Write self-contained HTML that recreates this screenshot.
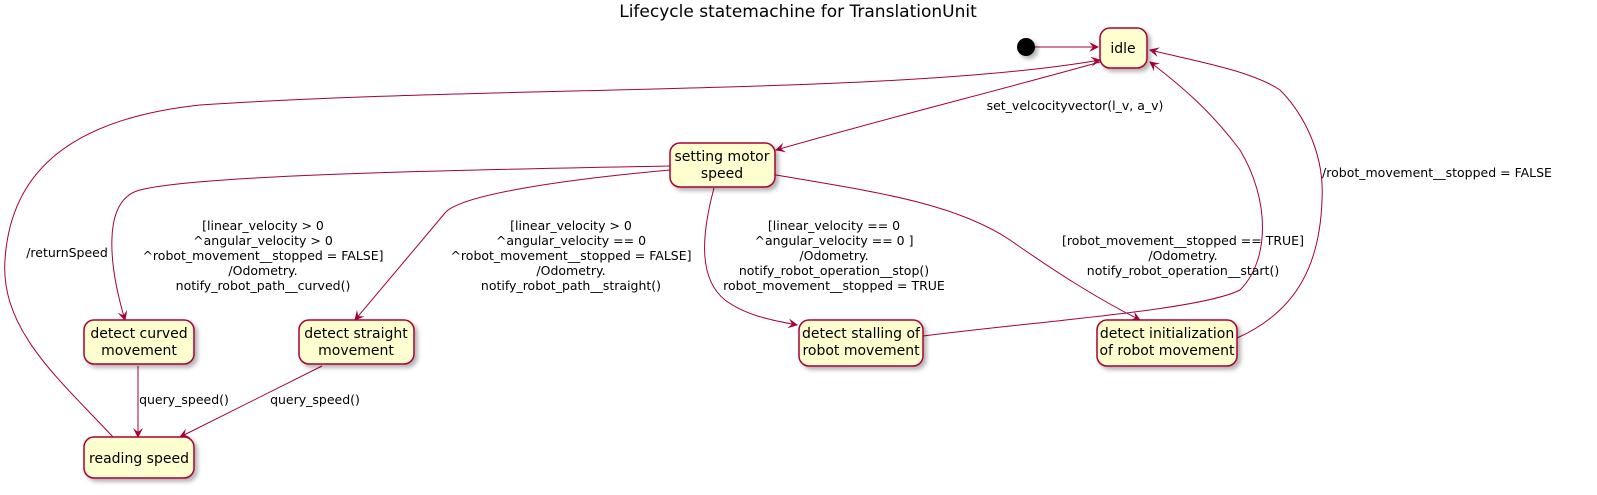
<!DOCTYPE html>
<html><head><meta charset="utf-8"><style>
html,body{margin:0;padding:0;background:#fff;}
svg{display:block;font-family:"DejaVu Sans","Liberation Sans",sans-serif;}
.n{fill:#FEFECE;stroke:#A80036;stroke-width:1.5;filter:url(#sh);}
.e{fill:none;stroke:#A80036;stroke-width:1;}
.t{font-size:14px;fill:#000;text-anchor:middle;}
.l{font-size:12.5px;fill:#000;text-anchor:middle;}
</style></head><body>
<svg width="1597" height="495" viewBox="0 0 1597 495">
<defs>
<filter id="sh" x="-20%" y="-20%" width="150%" height="160%"><feDropShadow dx="3" dy="3" stdDeviation="2" flood-color="#000" flood-opacity="0.3"/></filter>
<marker id="a" viewBox="0 0 10 10" refX="9" refY="5" markerWidth="10" markerHeight="10" orient="auto" markerUnits="userSpaceOnUse"><path d="M0,0 L10,5 L0,10 L4,5 Z" fill="#A80036"/></marker>
</defs>
<text x="798" y="17" style="font-size:17px;text-anchor:middle">Lifecycle statemachine for TranslationUnit</text>

<path class="e" d="M1034,47 L1098,47" marker-end="url(#a)"/>
<path class="e" d="M1100,62 C1000,90 880,120 776,150" marker-end="url(#a)" marker-start="url(#a)"/>
<path class="e" d="M113,437 C60,380 0,330 5,260 C10,180 60,120 200,105 C500,85 900,95 1100,60" marker-end="url(#a)"/>
<path class="e" d="M670,166 C450,170 200,175 140,190 C100,200 110,270 125,320" marker-end="url(#a)"/>
<path class="e" d="M670,170 C560,180 460,195 445,213 L355,320" marker-end="url(#a)"/>
<path class="e" d="M714,188 C700,240 700,280 725,300 C745,315 770,320 797,325" marker-end="url(#a)"/>
<path class="e" d="M765,173 C860,190 950,200 1010,240 C1060,275 1100,300 1140,320" marker-end="url(#a)"/>
<path class="e" d="M923,336 C1050,320 1200,310 1240,290 C1270,260 1270,200 1240,150 C1210,110 1180,85 1150,62" marker-end="url(#a)"/>
<path class="e" d="M1237,338 C1300,310 1320,260 1322,200 C1325,150 1300,110 1280,90 C1250,70 1190,60 1150,50" marker-end="url(#a)"/>
<path class="e" d="M138,366 L138,437" marker-end="url(#a)"/>
<path class="e" d="M322,366 L180,437" marker-end="url(#a)"/>

<circle cx="1026" cy="47" r="9" fill="#000" filter="url(#sh)"/>
<rect class="n" x="1100" y="28" width="47" height="40" rx="10"/>
<text class="t" x="1123" y="53">idle</text>
<rect class="n" x="670" y="143" width="105" height="44" rx="10"/>
<text class="t" x="722" y="161">setting motor</text><text class="t" x="722" y="178">speed</text>
<rect class="n" x="84" y="320" width="110" height="44" rx="10"/>
<text class="t" x="139" y="338">detect curved</text><text class="t" x="139" y="355">movement</text>
<rect class="n" x="299" y="320" width="115" height="44" rx="10"/>
<text class="t" x="356" y="338">detect straight</text><text class="t" x="356" y="355">movement</text>
<rect class="n" x="799" y="320" width="124" height="46" rx="10"/>
<text class="t" x="861" y="338">detect stalling of</text><text class="t" x="861" y="355">robot movement</text>
<rect class="n" x="1097" y="320" width="140" height="46" rx="10"/>
<text class="t" x="1167" y="338">detect initialization</text><text class="t" x="1167" y="355">of robot movement</text>
<rect class="n" x="84" y="437" width="110" height="41" rx="10"/>
<text class="t" x="139" y="463">reading speed</text>

<text class="l" x="1075" y="110">set_velcocityvector(l_v, a_v)</text>
<text class="l" x="67" y="257">/returnSpeed</text>
<text class="l" x="263" y="230">[linear_velocity &gt; 0</text>
<text class="l" x="263" y="245">^angular_velocity &gt; 0</text>
<text class="l" x="263" y="260">^robot_movement__stopped = FALSE]</text>
<text class="l" x="263" y="275">/Odometry.</text>
<text class="l" x="263" y="290">notify_robot_path__curved()</text>
<text class="l" x="571" y="230">[linear_velocity &gt; 0</text>
<text class="l" x="571" y="245">^angular_velocity == 0</text>
<text class="l" x="571" y="260">^robot_movement__stopped = FALSE]</text>
<text class="l" x="571" y="275">/Odometry.</text>
<text class="l" x="571" y="290">notify_robot_path__straight()</text>
<text class="l" x="834" y="230">[linear_velocity == 0</text>
<text class="l" x="834" y="245">^angular_velocity == 0 ]</text>
<text class="l" x="834" y="260">/Odometry.</text>
<text class="l" x="834" y="275">notify_robot_operation__stop()</text>
<text class="l" x="834" y="290">robot_movement__stopped = TRUE</text>
<text class="l" x="1183" y="245">[robot_movement__stopped == TRUE]</text>
<text class="l" x="1183" y="260">/Odometry.</text>
<text class="l" x="1183" y="275">notify_robot_operation__start()</text>
<text class="l" x="1437" y="177">/robot_movement__stopped = FALSE</text>
<text class="l" x="184" y="404">query_speed()</text>
<text class="l" x="315" y="404">query_speed()</text>
</svg>
</body></html>
